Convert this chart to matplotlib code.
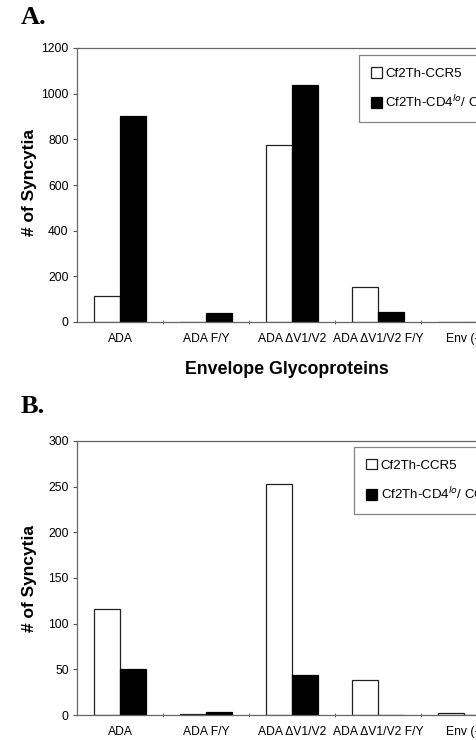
import matplotlib
matplotlib.use('Agg')
import matplotlib.pyplot as plt
import numpy as np

plt.rcParams['font.family'] = ['Liberation Sans', 'DejaVu Sans']

# Datos
envs = ['ADA', 'ADA F/Y', 'ADA \u0394V1/V2', 'ADA \u0394V1/V2 F/Y', 'Env (-)']
ccr5_a = [115, 2, 775, 155, 0]
cd4lo_a = [900, 40, 1040, 45, 0]
ccr5_b = [116, 1, 253, 38, 2]
cd4lo_b = [50, 3, 44, 0, 0]
lab_white = 'Cf2Th-CCR5'
lab_black = 'Cf2Th-CD4$^{lo}$/ CCR5'

W, H = 477, 740
fig = plt.figure(figsize=(W / 100, H / 100), dpi=100)


def panel(rect, white, black, ymax, ystep, leg_xy):
    ax = fig.add_axes(rect)
    x = np.arange(len(envs))
    w = 0.3
    ax.bar(x - w / 2, white, w, color='white', edgecolor='#222222', linewidth=0.9, label=lab_white)
    ax.bar(x + w / 2, black, w, color='black', edgecolor='black', linewidth=0.9, label=lab_black)
    ax.set_xlim(-0.5, len(envs) - 0.5)
    ax.set_ylim(0, ymax)
    ax.set_yticks(np.arange(0, ymax + 1, ystep))
    ax.set_xticks(x)
    ax.set_xticklabels(envs, fontsize=8.7)
    ax.set_xticks(np.arange(0.5, len(envs) - 0.5), minor=True)
    ax.tick_params(axis='x', which='major', length=0, pad=8)
    ax.tick_params(axis='x', which='minor', length=3, direction='inout', color='#555555')
    ax.tick_params(axis='y', labelsize=8.7, length=3, color='#555555', pad=3)
    for s in ax.spines.values():
        s.set_color('#666666')
        s.set_linewidth(0.9)
    leg = ax.legend(loc='upper left', bbox_to_anchor=leg_xy, fontsize=9.5, frameon=True,
                    fancybox=False, handlelength=0.85, handleheight=0.85, labelspacing=1.1,
                    handletextpad=0.25, borderpad=0.9, borderaxespad=0)
    leg.get_frame().set_edgecolor('#666666')
    leg.get_frame().set_linewidth(0.9)
    return ax


axA = panel([77 / W, 1 - 322 / H, 430 / W, 274 / H], ccr5_a, cd4lo_a, 1200, 200, (0.655, 0.974))
axB = panel([77 / W, 1 - 715 / H, 430 / W, 274 / H], ccr5_b, cd4lo_b, 300, 50, (0.645, 0.978))

fig.text(30 / W, 1 - 183 / H, '# of Syncytia', rotation=90, ha='center', va='center',
         fontsize=12.5, fontweight='bold')
fig.text(30 / W, 1 - 578 / H, '# of Syncytia', rotation=90, ha='center', va='center',
         fontsize=12.5, fontweight='bold')
fig.text(287 / W, 1 - 370 / H, 'Envelope Glycoproteins', ha='center', va='center',
         fontsize=12.8, fontweight='bold')
fig.text(21 / W, 1 - 24 / H, 'A.', fontsize=19, fontweight='bold', family='Liberation Serif',
         ha='left', va='baseline')
fig.text(21 / W, 1 - 413 / H, 'B.', fontsize=19, fontweight='bold', family='Liberation Serif',
         ha='left', va='baseline')

fig.savefig('out.png', dpi=100)
